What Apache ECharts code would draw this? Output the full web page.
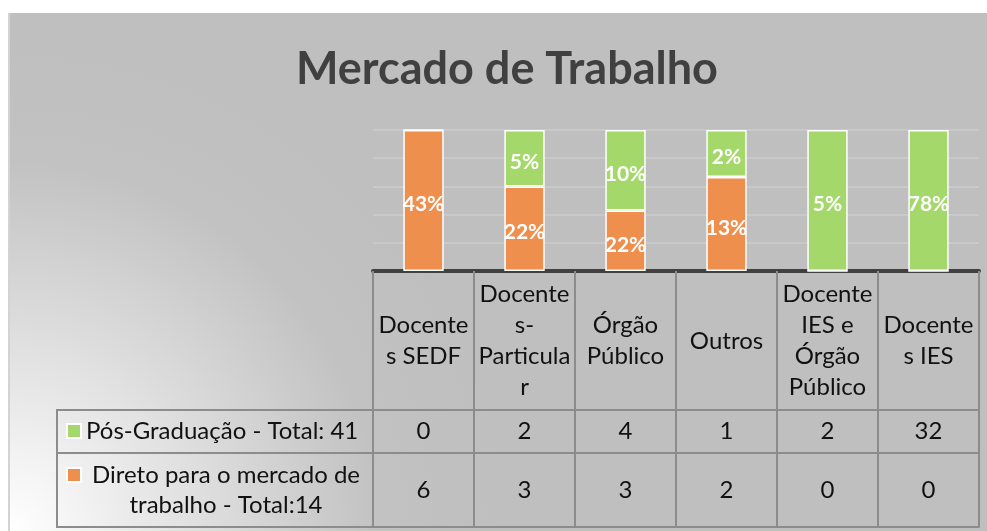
<!DOCTYPE html>
<html>
<head>
<meta charset="utf-8">
<script src="https://cdn.jsdelivr.net/npm/echarts@6/dist/echarts.min.js"></script>
<style>
  html, body { margin: 0; padding: 0; background: #fff; }
  #chart { position: absolute; left: 8px; top: 13px; width: 977px; height: 518px; border-left: 2px solid #d3d3d3; }
</style>
</head>
<body>
<div id="chart"></div>
<script>
// categorias (rótulos da tabela, quebrados como no original)
const categories = ['Docente\ns SEDF', 'Docente\ns-\nParticula\nr', 'Órgão\nPúblico', 'Outros', 'Docente\nIES e\nÓrgão\nPúblico', 'Docente\ns IES']

// contagens por categoria
const posGraduacao = [0, 2, 4, 1, 2, 32]
const diretoMercado = [6, 3, 3, 2, 0, 0]

// rótulos das barras, como aparecem no gráfico
const posLabels = ['', '5%', '10%', '2%', '5%', '78%']
const diretoLabels = ['43%', '22%', '22%', '13%', '', '']

const posName = 'Pós-Graduação - Total: 41'
const diretoName = 'Direto para o mercado de trabalho - Total:14'

const FONT = 'Lato'
const LINE = '#8c8c8c'

// coluna 100% empilhada
const share = (a, b) => a.map((v, i) => (a[i] + b[i]) ? v / (a[i] + b[i]) * 100 : 0)

const chart = echarts.init(document.getElementById('chart'), null, { renderer: 'canvas' })

const valueAxisLabel = (values, margin) => ({
  interval: 0,
  margin: margin,
  verticalAlign: 'middle',
  fontFamily: FONT,
  fontSize: 24,
  color: '#111',
  formatter: (v, i) => String(values[i])
})

const hiddenAxis = idx => ({ gridIndex: idx, type: 'value', show: false })

chart.setOption({
  backgroundColor: {
    type: 'radial', x: 0, y: 1, r: 0.95,
    colorStops: [
      { offset: 0, color: '#ffffff' },
      { offset: 0.3, color: '#e6e6e6' },
      { offset: 0.75, color: '#c2c2c2' },
      { offset: 1, color: '#bfbfbf' }
    ]
  },
  title: {
    text: 'Mercado de Trabalho',
    left: 281,
    top: 29,
    textStyle: { fontFamily: FONT, fontSize: 45, fontWeight: 'bold', color: '#404040' }
  },
  legend: [
    {
      data: [posName], left: 56, top: 402, padding: 0,
      itemWidth: 14, itemHeight: 14, icon: 'rect',
      textStyle: { fontFamily: FONT, fontSize: 24, lineHeight: 32, color: '#111' }
    },
    {
      // marcador alinhado com a primeira linha do texto
      data: [diretoName], left: 56, top: 447, padding: 0,
      itemWidth: 14, itemHeight: 44, icon: 'path://M0,0L14,0L14,14L0,14Z M0,44L0,44',
      formatter: () => '{a|Direto para o mercado de}\n{a|trabalho - Total:14}',
      textStyle: {
        fontFamily: FONT, fontSize: 24, lineHeight: 30, color: '#111',
        rich: { a: { width: 280, align: 'center', fontFamily: FONT, fontSize: 24, lineHeight: 30, color: '#111' } }
      }
    }
  ],
  grid: [
    { left: 363, right: 8, top: 117, height: 141 },
    { left: 47, top: 397, width: 316, height: 43, show: true, borderColor: LINE, borderWidth: 2, backgroundColor: 'transparent' },
    { left: 47, top: 440, width: 316, height: 74, show: true, borderColor: LINE, borderWidth: 2, backgroundColor: 'transparent' }
  ],
  xAxis: [
    {
      type: 'category', data: categories, position: 'bottom',
      axisLine: { lineStyle: { color: '#404040', width: 4 } },
      axisTick: { show: true, length: 256, lineStyle: { color: LINE, width: 2 } },
      axisLabel: {
        interval: 0, margin: 70, verticalAlign: 'middle',
        fontFamily: FONT, fontSize: 24, lineHeight: 31, color: '#111'
      }
    },
    {
      type: 'category', data: categories, position: 'bottom', offset: 139,
      axisLine: { lineStyle: { color: LINE, width: 2 } }, axisTick: { show: false },
      axisLabel: valueAxisLabel(posGraduacao, 21)
    },
    {
      type: 'category', data: categories, position: 'bottom', offset: 182,
      axisLine: { lineStyle: { color: LINE, width: 2 } }, axisTick: { show: false },
      axisLabel: valueAxisLabel(diretoMercado, 37)
    },
    {
      type: 'category', data: categories, position: 'bottom', offset: 256,
      axisLine: { lineStyle: { color: LINE, width: 2 } }, axisTick: { show: false },
      axisLabel: { show: false }
    },
    { gridIndex: 1, type: 'value', show: false },
    { gridIndex: 2, type: 'value', show: false }
  ],
  yAxis: [
    {
      type: 'value', min: 0, max: 100, interval: 20,
      axisLabel: { show: false }, axisLine: { show: false }, axisTick: { show: false },
      splitLine: { lineStyle: { color: '#cdcdcd', width: 1.5 } }
    },
    hiddenAxis(1),
    hiddenAxis(2)
  ],
  series: [
    {
      name: diretoName, type: 'bar', stack: 'total', barWidth: '40%',
      data: share(diretoMercado, posGraduacao),
      itemStyle: { color: '#ee8f4d', borderColor: '#ffffff', borderWidth: 1.5 },
      label: {
        show: true, position: 'inside', offset: [0, 4],
        fontFamily: FONT, fontSize: 21, fontWeight: 'bold', color: '#fff',
        formatter: p => diretoLabels[p.dataIndex]
      }
    },
    {
      name: posName, type: 'bar', stack: 'total', barWidth: '40%',
      data: share(posGraduacao, diretoMercado),
      itemStyle: { color: '#a4d86a', borderColor: '#ffffff', borderWidth: 1.5 },
      label: {
        show: true, position: 'inside', offset: [0, 4],
        fontFamily: FONT, fontSize: 21, fontWeight: 'bold', color: '#fff',
        formatter: p => posLabels[p.dataIndex]
      }
    }
  ]
})
</script>
</body>
</html>
